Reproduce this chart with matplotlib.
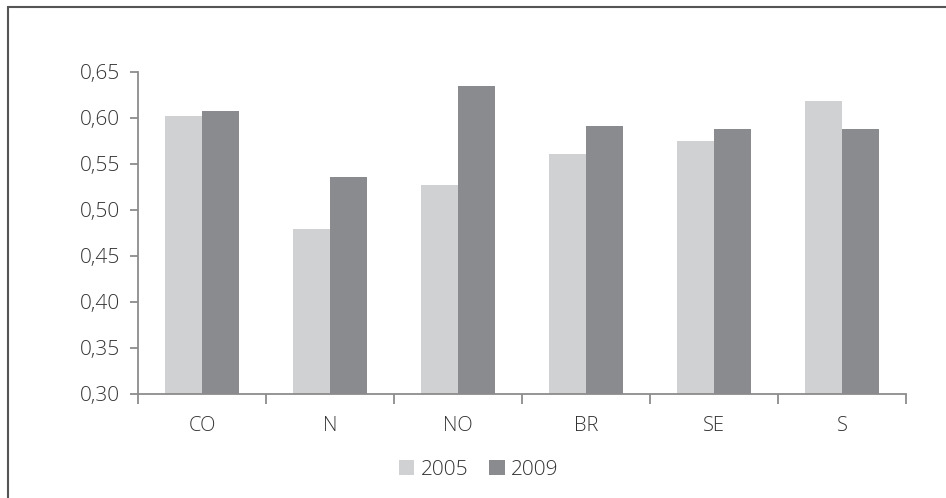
import matplotlib.pyplot as plt
from matplotlib.ticker import FuncFormatter
from matplotlib.patches import Rectangle
import numpy as np

plt.rcParams['font.family'] = ['Open Sans', 'DejaVu Sans']
plt.rcParams['font.weight'] = 'light'

regions = ['CO', 'N', 'NO', 'BR', 'SE', 'S']
values_2005 = [0.602, 0.479, 0.527, 0.561, 0.575, 0.618]
values_2009 = [0.607, 0.536, 0.635, 0.591, 0.588, 0.588]
yticks = [0.30, 0.35, 0.40, 0.45, 0.50, 0.55, 0.60, 0.65]

light = '#d0d1d3'
dark = '#8a8b8f'
axis_color = '#8c8c8c'
text_color = '#333333'

fig = plt.figure(figsize=(9.46, 4.98), dpi=100)
ax = fig.add_axes([0.1459, 0.2095, 0.8118, 0.6465])

# outer frame (only top and left visible in the reference)
fig.patches.append(Rectangle((8 / 946, -0.1), 1.2, 1.1 - 7 / 498, transform=fig.transFigure,
                             fill=False, edgecolor='#555555', linewidth=1.5))

x = np.arange(len(regions))
w = 0.29
ax.bar(x - w / 2, values_2005, width=w, color=light, label='2005')
ax.bar(x + w / 2, values_2009, width=w, color=dark, label='2009')

ax.set_xlim(-0.5, len(regions) - 0.5)
ax.set_ylim(0.30, 0.65)
ax.set_yticks(yticks)
ax.yaxis.set_major_formatter(FuncFormatter(lambda v, p: f'{v:.2f}'.replace('.', ',')))

ax.set_xticks(np.arange(len(regions) + 1) - 0.5)
ax.set_xticklabels([])
ax.set_xticks(x, minor=True)
ax.set_xticklabels(regions, minor=True)
ax.tick_params(axis='x', which='minor', length=0, pad=16, labelsize=14.5, labelcolor=text_color)
ax.tick_params(axis='x', which='major', length=7, width=1.3, color=axis_color, direction='out')
ax.tick_params(axis='y', length=6, width=1.3, color=axis_color, pad=7, labelsize=15, labelcolor=text_color)

for s in ['top', 'right']:
    ax.spines[s].set_visible(False)
for s in ['left', 'bottom']:
    ax.spines[s].set_color(axis_color)
    ax.spines[s].set_linewidth(1.3)

fig.legend(loc='center', bbox_to_anchor=(0.506, 0.056), ncol=2, frameon=False,
           handlelength=0.75, handleheight=0.75, handletextpad=0.3, columnspacing=1.0,
           fontsize=15, labelcolor=text_color)

fig.savefig('out.png', dpi=100)
